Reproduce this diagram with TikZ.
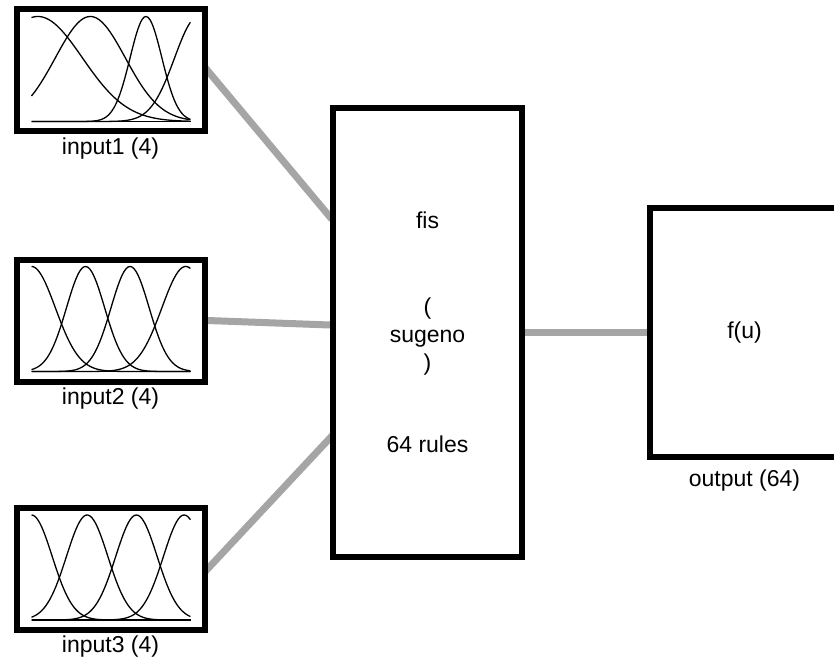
\documentclass[tikz,border=0pt]{standalone}
\usepackage{fontspec}
\setmainfont{Liberation Sans}
\usepackage{xcolor}
\usepackage{tikz}
\usetikzlibrary{calc,positioning,backgrounds}
\definecolor{linkgray}{RGB}{165,165,165}

\begin{document}
\begin{tikzpicture}[
	%	style def
    x=1pt, y=-1pt,
    thick box/.style={draw=black, line width=6pt, inner sep=0pt},
    input box/.style={thick box, minimum width=188pt, minimum height=122pt},
    link line/.style={draw=linkgray, line width=7pt, shorten <=-3pt, shorten >=-3pt},
    mf line/.style={line width=1.3pt},
    every node/.style={color=black, font=\fontsize{23}{28}\selectfont}
    ]
    \useasboundingbox (0,0) rectangle (834,668);
    \clip (0,0) rectangle (834,668);

	% input blocks with their names
    \node[input box] (in1) at (110.5,70.5) {};
    \node[input box] (in2) at (110.5,320.5) {};
    \node[input box] (in3) at (110.5,569) {};
    \node[below=3pt of in1, inner sep=0pt] (in1txt) {input1 (4)};
    \node[below=3pt of in2, inner sep=0pt] (in2txt) {input2 (4)};
    \node[below=3pt of in3, inner sep=0pt] (in3txt) {input3 (4)};

    % fis block
    \node[thick box, minimum width=189pt, minimum height=449pt, align=center] (fis) at (427.5,332.5)
        {fis\\[58pt](\\sugeno\\)\\[54pt]64 rules};

    % output block (runs off the right edge)
    \node[thick box, minimum width=189pt, minimum height=249pt] (out) at (744.5,332.5) {f(u)};
    \node[below=10pt of out, inner sep=0pt] (outtxt) {output (64)};

    % membership functions of input1
    \begin{scope}[shift={($(in1.center)+(-79,51)$)}, x=159pt, y=105pt]
        \draw[mf line] (0,0) -- (1,0);
        \foreach \c/\s in {0.04/0.28, 0.37/0.22, 0.72/0.1, 1.05/0.15}
            \draw[mf line] plot[domain=0:1, samples=80, smooth] (\x, {exp(-((\x-\c)^2)/(2*\s*\s))});
    \end{scope}
    % membership functions of input2
    \begin{scope}[shift={($(in2.center)+(-79,51)$)}, x=159pt, y=105pt]
        \draw[mf line] (0,0) -- (1,0);
        \foreach \c/\s in {0.0/0.15, 0.34/0.12, 0.62/0.12, 0.97/0.15}
            \draw[mf line] plot[domain=0:1, samples=80, smooth] (\x, {exp(-((\x-\c)^2)/(2*\s*\s))});
    \end{scope}
    % membership functions of input3
    \begin{scope}[shift={($(in3.center)+(-79,51)$)}, x=159pt, y=105pt]
        \draw[mf line] (0,0) -- (1,0);
        \foreach \c/\s in {0.0/0.13, 0.35/0.13, 0.66/0.13, 0.96/0.13}
            \draw[mf line] plot[domain=0:1, samples=80, smooth] (\x, {exp(-((\x-\c)^2)/(2*\s*\s))});
    \end{scope}

    % connections between blocks
    \begin{pgfonlayer}{background}
        \draw[link line] (in1.east) -- ([yshift=115.5pt]fis.west);
        \draw[link line] (in2.east) -- ([yshift=7.5pt]fis.west);
        \draw[link line] (in3.east) -- ([yshift=-105.5pt]fis.west);
        \draw[link line] (fis.east) -- (out.west);
    \end{pgfonlayer}

\end{tikzpicture}
\end{document}
